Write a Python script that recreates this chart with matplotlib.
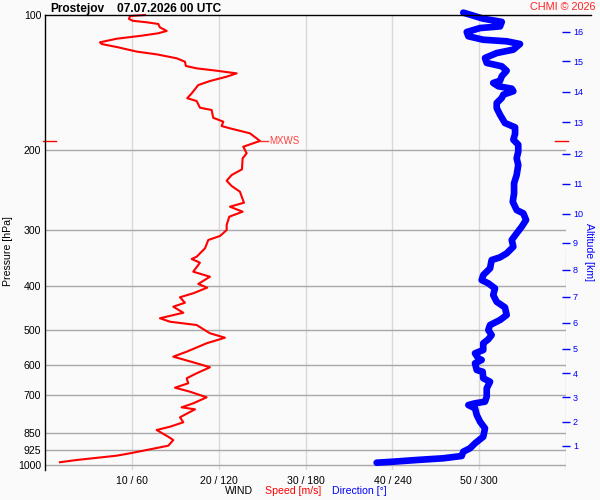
import numpy as np
import matplotlib
matplotlib.use("Agg")
import matplotlib.pyplot as plt
from matplotlib.lines import Line2D
from matplotlib.ticker import NullLocator, FixedLocator

plt.rcParams['font.family'] = ['Liberation Sans', 'DejaVu Sans']

# wind speed profile [m/s] vs pressure [hPa]
speed_p = [100, 100.5, 102, 103, 103.8, 104.7, 106.5, 108.5, 109.8, 111.3,
           112.9, 115, 116, 118, 120.6, 122.3, 124.8, 127, 129.8, 131.4,
           132.7, 134.8, 137.1, 140.2, 143.1, 149.3, 153.1, 155.3, 160.7, 162.6,
           169.2, 172.6, 176.5, 178.6, 183.2, 190.5, 196.2, 202.9, 208.2, 220.3,
           226.8, 233.5, 239.9, 247, 261.3, 266.7, 273.6, 280.7, 292.9, 300.5,
           309.8, 316.2, 330, 344.5, 348.5, 355.2, 371.9, 381.6, 396, 403.6,
           415.3, 423.9, 435.9, 444.9, 458.8, 472, 480.4, 488.6, 509.7, 521.3,
           536.5, 560, 574.5, 594.3, 606.6, 625.5, 641.7, 658.3, 673.3, 687.3,
           707.3, 729.4, 744.5, 752.2, 783.4, 803.8, 822.1, 836.1, 865.3, 880.2,
           906, 926.2, 942, 953.5, 974.8, 986]
speed = [11.5, 9.76, 9.64, 10.07, 11.68, 13.02, 13.2, 13.99, 13.02, 10.91,
         8.23, 6.3, 6.5, 8.41, 10.53, 12.83, 15.14, 16.09, 16.2, 17.44,
         19.35, 22.05, 20.9, 18.97, 17.63, 16.87, 16.36, 17.44, 17.82, 19.17,
         19.35, 20.51, 20.32, 21.28, 23.58, 24.74, 22.81, 23.2, 22.74, 22.66,
         21.47, 20.9, 21.47, 22.43, 22.89, 21.28, 22.74, 21.2, 20.9, 20.9,
         20.13, 18.78, 18.4, 17.44, 16.87, 17.82, 17.05, 18.97, 17.63, 18.66,
         17.05, 15.52, 16.09, 14.75, 15.9, 13.21, 14.37, 17.44, 18.97, 20.7,
         18.59, 16.29, 14.75, 17.44, 18.97, 17.44, 16.29, 16.47, 14.94, 16.67,
         18.59, 17.05, 15.71, 17.25, 15.52, 15.9, 14.37, 12.83, 14.17, 14.75,
         14.17, 11.68, 9.76, 8.23, 3.62, 1.69]

# wind direction profile [deg] vs pressure [hPa]
dir_p = [98.8, 101.9, 103.6, 106, 106.9, 109.1, 111.5, 113.5, 114.4, 116,
         119.4, 121.5, 124.6, 127.8, 130, 133, 136.8, 140, 141.6, 144,
         145.8, 147.7, 150.3, 152.9, 156.9, 161, 166.6, 173.8, 177.7, 183.8,
         189.3, 194.2, 201.3, 208.2, 215.4, 226.8, 236.6, 249.1, 260, 271.3,
         275.9, 285.5, 295.4, 305.6, 316.2, 327.3, 338.6, 345.6, 350.4, 365.6,
         378.4, 388.2, 394.8, 405, 419.2, 433.9, 446.5, 464.2, 476.2, 488.6,
         501.2, 514.2, 525.7, 536.5, 555.2, 564.7, 579.3, 584.3, 594.3, 615.1,
         620.5, 641.7, 653, 675.5, 705, 723.3, 729.4, 735.8, 748.2, 774.3,
         801.4, 828.8, 865.3, 895.1, 918.3, 934.2, 955, 966.3, 974.8, 983.3,
         988.4]
direction = [289.0, 302.8, 315.6, 314.4, 300.6, 291.4, 292.5, 302.8, 319.0, 328.2,
             323.6, 312.1, 304.0, 305.2, 315.6, 319.0, 315.6, 314.4, 309.7, 313.2,
             322.5, 323.6, 316.7, 315.6, 312.1, 312.1, 314.4, 317.8, 324.8, 324.8,
             323.6, 327.0, 327.0, 325.9, 327.0, 325.9, 324.1, 324.1, 323.2, 325.9,
             330.5, 332.4, 329.4, 325.9, 322.5, 323.6, 319.0, 314.4, 308.6, 307.5,
             302.8, 301.7, 306.3, 310.9, 309.7, 312.1, 317.8, 319.0, 314.4, 307.5,
             306.3, 308.6, 306.3, 302.8, 302.8, 297.1, 299.4, 301.7, 297.1, 298.3,
             302.4, 302.8, 307.5, 305.2, 305.2, 304.0, 297.1, 292.5, 297.1, 298.3,
             300.6, 304.0, 302.8, 297.1, 293.6, 289.0, 287.9, 275.2, 256.8, 240.6,
             229.1]

p_levels = [100, 200, 300, 400, 500, 600, 700, 850, 925, 1000]
speed_ticks = [10, 20, 30, 40, 50]
speed_labels = ["10 / 60", "20 / 120", "30 / 180", "40 / 240", "50 / 300"]
alt_km = [1, 2, 3, 4, 5, 6, 7, 8, 9, 10, 11, 12, 13, 14, 15, 16]
alt_p = [907.4, 801.4, 707.3, 625.6, 551.5, 482.8, 422.7, 368.7, 321.1,
         276.4, 237.1, 203.3, 173.1, 148.1, 126.7, 108.9]

bg = "#fafafa"
fig = plt.figure(figsize=(6, 5), dpi=100, facecolor=bg)
ax = fig.add_axes([0.0755, 0.06, 0.8678, 0.91], facecolor=bg)

ax.set_yscale("log")
ax.set_ylim(1026, 100)
ax.set_xlim(0, 60)
ax.yaxis.set_major_locator(FixedLocator(p_levels))
ax.yaxis.set_minor_locator(NullLocator())
ax.set_yticklabels([str(p) for p in p_levels])
ax.set_xticks(speed_ticks)
ax.set_xticklabels(speed_labels)
ax.tick_params(axis="both", length=0, labelsize=7.6, colors="black")
ax.tick_params(axis="y", pad=3)
ax.tick_params(axis="x", pad=4)

for p in p_levels[1:]:
    ax.axhline(p, color="#a8a8a8", lw=1, zorder=1)
for s in speed_ticks:
    ax.axvline(s, color="#d9d9d9", lw=1, zorder=0.5)
ax.axvline(60, ymin=0, ymax=0.4835, color="#d0d0d0", lw=1, zorder=0.5)

for side in ["top", "right", "bottom"]:
    ax.spines[side].set_visible(False)
ax.spines["left"].set_color("black")
ax.spines["left"].set_linewidth(1)

# direction (0-360 deg drawn on the 0-60 speed scale)
ax.plot(np.array(direction) / 6.0, dir_p, color="#0000ff", lw=4.8,
        solid_capstyle="round", solid_joinstyle="round", zorder=3, clip_on=False)
ax.plot(speed, speed_p, color="#ff0000", lw=1.5, zorder=4, clip_on=False)

# max wind marker
imax = int(np.argmax(speed))
mx_s, mx_p = speed[imax], speed_p[imax]
ax.plot([mx_s, mx_s + 0.9], [mx_p, mx_p], color="#ff3030", lw=1, zorder=4)
ax.text(mx_s + 1.1, mx_p, "MXWS", color="#ff4040", fontsize=7, va="center", ha="left")
yt = ax.get_yaxis_transform()
ax.plot([-0.005, 0.02], [mx_p, mx_p], color="#ff0000", lw=1, transform=yt, clip_on=False)
ax.plot([0.979, 1.004], [mx_p, mx_p], color="#ff0000", lw=1, transform=yt, clip_on=False)

# altitude axis
ax2 = ax.twinx()
ax2.set_yscale("log")
ax2.set_ylim(1026, 100)
ax2.yaxis.set_major_locator(FixedLocator(alt_p))
ax2.yaxis.set_minor_locator(NullLocator())
ax2.set_yticklabels([str(a) for a in alt_km])
ax2.tick_params(axis="y", direction="inout", length=6, width=1, colors="#0000ff",
                labelsize=6.5, pad=2)
for side in ax2.spines:
    ax2.spines[side].set_visible(False)

fig.add_artist(Line2D([45.3 / 600, 591 / 600], [0.97, 0.97], color="black", lw=1))

fig.text(50 / 600, 1 - 11.7 / 500, "Prostejov", fontsize=8.6, fontweight="bold", va="baseline")
fig.text(117.3 / 600, 1 - 11.7 / 500, "07.07.2026 00 UTC", fontsize=8.6, fontweight="bold",
         va="baseline")
fig.text(596 / 600, 1 - 10.5 / 500, "CHMI \u00a9 2026", fontsize=7.8, color="#ff2020",
         ha="right", va="baseline")
fig.text(8 / 600, 1 - 251 / 500, "Pressure [hPa]", fontsize=7.6, rotation=90,
         ha="center", va="center")
fig.text(589 / 600, 1 - 252 / 500, "Altitude [km]", fontsize=7.6, rotation=270,
         ha="center", va="center", color="#0000ff")
fig.text(225 / 600, 1 - 491 / 500, "WIND", fontsize=7.6, va="center")
fig.text(264.7 / 600, 1 - 491 / 500, "Speed [m/s]", fontsize=7.6, va="center", color="#ff0000")
fig.text(332 / 600, 1 - 491 / 500, "Direction [\u00b0]", fontsize=7.6, va="center",
         color="#0000ff")

fig.savefig("out.png", dpi=100, facecolor=bg)
